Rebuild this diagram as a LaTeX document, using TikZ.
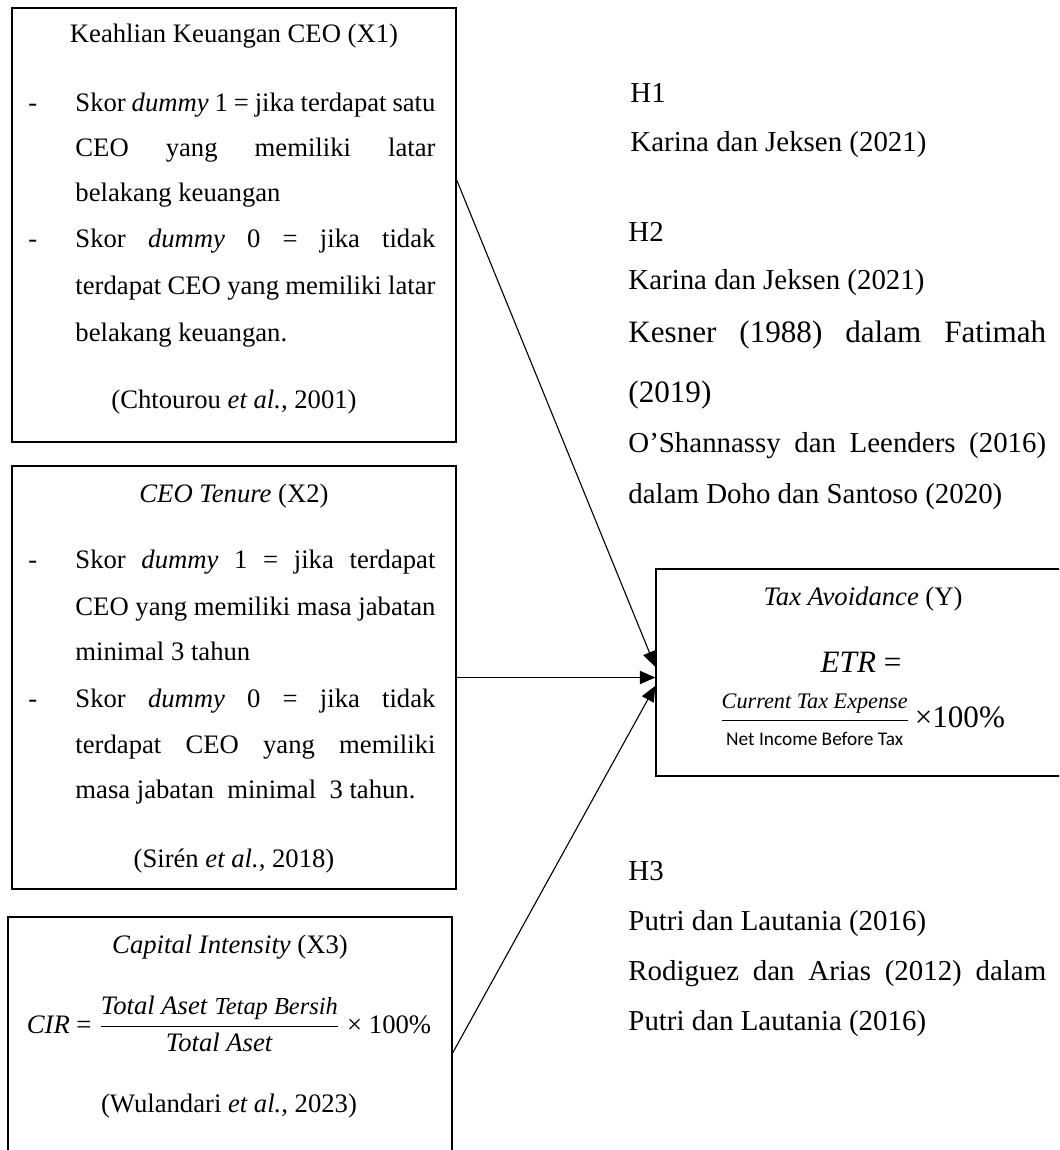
\documentclass[tikz,border=0pt]{standalone}
\usepackage{amsmath}
\usepackage{fontspec}
\setmainfont{Liberation Serif}
\newfontfamily\carlito{Carlito}
\usetikzlibrary{arrows.meta}
\newcommand{\jl}[2][162pt]{\makebox[#1][s]{#2}}
\tikzset{
  box/.style={draw, line width=0.6pt, rectangle, inner sep=0pt},
  txt/.style={anchor=base west, inner sep=0pt, font=\fontsize{12}{14}\selectfont},
  ctxt/.style={anchor=base, inner sep=0pt, font=\fontsize{12}{14}\selectfont},
  rtxt/.style={anchor=base west, inner sep=0pt, font=\fontsize{13}{15}\selectfont},
  bigtxt/.style={anchor=base west, inner sep=0pt, font=\fontsize{14}{16}\selectfont},
  arr/.style={-{Triangle[length=7pt,width=6pt]}, line width=0.5pt}
}
\begin{document}
\begin{tikzpicture}[x=0.45pt,y=-0.45pt]
\useasboundingbox (0,0) rectangle (1059,1150);
\clip (0,0) rectangle (1059,1150);
\fill[white] (0,0) rectangle (1059,1150);

% boxes
\node[box, minimum width=199.8pt, minimum height=195.3pt] (x1) at (234,225) {};
\node[box, minimum width=199.8pt, minimum height=190.35pt] (x2) at (234,677.5) {};
\node[box, minimum width=199.8pt, minimum height=127.35pt] (x3) at (230,1058.5) {};
\node[box, minimum width=190.8pt, minimum height=93.15pt] (y) at (868,672.5) {};

% box 1 text
\node[ctxt] (t1) at (234,43) {Keahlian Keuangan CEO (X1)};
\node[txt] (b11) at (28,112) {-};
\node[txt] (l11) at (75,112) {\jl{Skor \textit{dummy} 1 = jika terdapat satu}};
\node[txt] (l12) at (75,157) {\jl{CEO yang memiliki latar}};
\node[txt] (l13) at (75,202) {belakang keuangan};
\node[txt] (b12) at (28,248) {-};
\node[txt] (l14) at (75,248) {\jl{Skor \textit{dummy} 0 = jika tidak}};
\node[txt] (l15) at (75,295) {\jl{terdapat CEO yang memiliki latar}};
\node[txt] (l16) at (75,342) {belakang keuangan.};
\node[ctxt] (c1) at (234,408) {(Chtourou \textit{et al.,} 2001)};

% box 2 text
\node[ctxt] (t2) at (234,502) {\textit{CEO Tenure} (X2)};
\node[txt] (b21) at (28,568) {-};
\node[txt] (l21) at (75,568) {\jl{Skor \textit{dummy} 1 = jika terdapat}};
\node[txt] (l22) at (75,615) {\jl{CEO yang memiliki masa jabatan}};
\node[txt] (l23) at (75,660) {minimal 3 tahun};
\node[txt] (b22) at (28,707) {-};
\node[txt] (l24) at (75,707) {\jl{Skor \textit{dummy} 0 = jika tidak}};
\node[txt] (l25) at (75,753) {\jl{terdapat CEO yang memiliki}};
\node[txt] (l26) at (75,798) {masa jabatan\ \ minimal\ \ 3 tahun.};
\node[ctxt] (c2) at (234,867) {(Sirén \textit{et al.,} 2018)};

% box 3 text
\node[ctxt] (t3) at (230,953) {\textit{Capital Intensity} (X3)};
\node[ctxt] (f3) at (229,1033) {\textit{CIR} = $\dfrac{\mbox{\textit{Total Aset }\fontsize{11}{12}\selectfont\textit{Tetap Bersih}}}{\mbox{\textit{Total Aset}}}$ × 100\%};
\node[ctxt] (c3) at (229,1112) {(Wulandari \textit{et al.,} 2023)};

% box Y text
\node[ctxt] (ty) at (863,605) {\textit{Tax Avoidance} (Y)};
\node[ctxt, font=\fontsize{14}{16}\selectfont] (etr) at (861,672) {\textit{ETR} =};
\node[ctxt] (fy) at (862,727) {$\displaystyle\frac{\mbox{\fontsize{10}{11}\selectfont\textit{Current Tax Expense}}}{\mbox{\fontsize{8.7}{10}\selectfont\carlito Net Income Before Tax}}$\,{\fontsize{14}{16}\selectfont ×100\%}};

% right column
\node[rtxt] (h1) at (630,103) {H1};
\node[rtxt] (r11) at (630,152) {Karina dan Jeksen (2021)};
\node[rtxt] (h2) at (628,242) {H2};
\node[rtxt] (r21) at (628,290) {Karina dan Jeksen (2021)};
\node[bigtxt] (r22) at (628,343) {\jl[188pt]{Kesner (1988) dalam Fatimah}};
\node[bigtxt] (r23) at (628,402) {(2019)};
\node[rtxt] (r24) at (628,452) {\jl[188pt]{O’Shannassy dan Leenders (2016)}};
\node[rtxt] (r25) at (628,503) {dalam Doho dan Santoso (2020)};
\node[rtxt] (h3) at (628,880) {H3};
\node[rtxt] (r31) at (628,930) {Putri dan Lautania (2016)};
\node[rtxt] (r32) at (628,980) {\jl[188pt]{Rodiguez dan Arias (2012) dalam}};
\node[rtxt] (r33) at (628,1030) {Putri dan Lautania (2016)};

% connectors
\draw[arr] ([yshift=20.25pt]x1.east) -- ([yshift=2.5pt]y.west);
\draw[arr] (x2.east) -- (x2.east -| y.west);
\draw[arr] ([yshift=2.5pt]x3.east) -- ([yshift=-6pt]y.west);
\end{tikzpicture}
\end{document}
